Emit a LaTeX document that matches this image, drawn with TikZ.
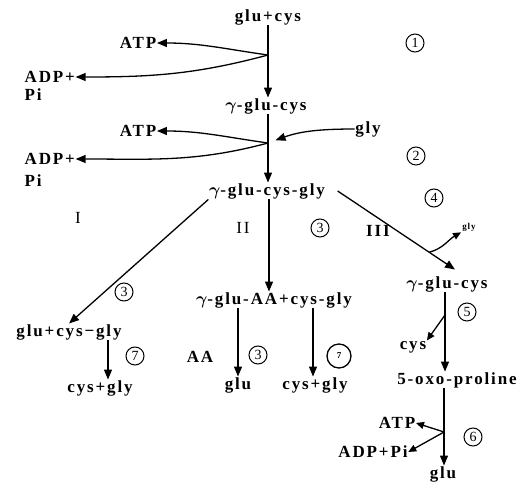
\documentclass[tikz,border=0pt]{standalone}
\usepackage{bm}
\usepackage{fontspec}
\setmainfont{Liberation Serif}[LetterSpace=11]
\usetikzlibrary{arrows.meta}
\begin{document}
\begin{tikzpicture}[x=1pt,y=-1pt,
  txt/.style={font=\bfseries\fontsize{17}{20}\selectfont, inner sep=0.5pt},
  rom/.style={font=\fontsize{17}{20}\selectfont, inner sep=0.5pt},
  num/.style={circle,draw,line width=1pt,minimum size=18pt,inner sep=0pt,font=\fontsize{14}{14}\selectfont},
  bignum/.style={circle,draw,line width=1.3pt,minimum size=24pt,inner sep=0pt,font=\bfseries\fontsize{9}{9}\selectfont},
  arr/.style={line width=1.3pt,-{Triangle[length=10pt,width=8pt]}},
  sarr/.style={line width=1.3pt,-{Triangle[length=8pt,width=7pt]}}]
\useasboundingbox (0,0) rectangle (525,490);
% texts
\node[txt] (gc) at (268,17) {glu+cys};
\node[txt] (atpA) at (138,43) {ATP};
\node[txt,anchor=west] (adpA) at (24,77) {ADP+};
\node[txt,anchor=west] (piA) at (24,95) {Pi};
\node[txt] (ggc) at (266,106) {$\bm{\gamma}$-glu-cys};
\node[txt] (atpB) at (138,131) {ATP};
\node[txt,anchor=west] (adpB) at (24,159) {ADP+};
\node[txt,anchor=west] (piB) at (24,181) {Pi};
\node[txt] (gly) at (368,129) {gly};
\node[txt] (ggcg) at (267,191) {$\bm{\gamma}$-glu-cys-gly};
\node[rom] (rI) at (78,218) {I};
\node[rom] (rII) at (243,228) {II};
\node[txt] (rIII) at (378,231) {III};
\node[txt] (gcg) at (69,332) {glu+cys−gly};
\node[txt] (cgA) at (100,388) {cys+gly};
\node[txt] (gaa) at (274,300) {$\bm{\gamma}$-glu-AA+cys-gly};
\node[txt] (aa) at (200,357) {AA};
\node[txt] (gluA) at (238,385) {glu};
\node[txt] (cgB) at (315,385) {cys+gly};
\node[txt] (ggc2) at (447,284) {$\bm{\gamma}$-glu-cys};
\node[txt] (cysC) at (413,347) {cys};
\node[txt] (oxo) at (457,380) {5-oxo-proline};
\node[txt] (atpC) at (397,423) {ATP};
\node[txt] (adpC) at (373,452) {ADP+Pi};
\node[txt] (gluC) at (443,474) {glu};
\node[font=\bfseries\fontsize{9}{9}\selectfont,inner sep=1pt] (glys) at (469,227) {gly};
% circled numbers
\node[num] (n1) at (415,43) {1};
\node[num] (n2) at (416,156) {2};
\node[num] (n4) at (434,198) {4};
\node[num] (n3a) at (320,228) {3};
\node[num] (n3b) at (124,292) {3};
\node[num] (n7a) at (135,356) {7};
\node[num] (n3c) at (258,355) {3};
\node[bignum] (n7b) at (339,356) {7};
\node[num] (n5) at (467,312) {5};
\node[num] (n6) at (473,437) {6};
% step 1
\coordinate (bA) at (268,55);
\draw[arr] (gc.south) -- (gc.south |- ggc.north);
\draw[arr] (bA) to[out=172,in=0] (atpA.east);
\draw[arr] (bA) to[out=195,in=0] (adpA.east);
% step 2
\coordinate (bB) at (268,143);
\draw[arr] (ggc.south -| bB) -- (bB |- ggcg.north);
\draw[arr] (bB) to[out=172,in=0] (atpB.east);
\draw[arr] (bB) to[out=195,in=0] (adpB.east);
\draw[arr,shorten >=8pt] (gly.west) to[out=180,in=20] (bB);
% branches
\draw[arr] (ggcg.south west) -- (gcg.north);
\coordinate (cgAtop) at ([xshift=8pt]cgA.north);
\draw[arr] (cgAtop |- gcg.south) -- (cgAtop);
\coordinate (IIx) at (269,0);
\draw[arr] (IIx |- ggcg.south) -- (IIx |- gaa.north);
\draw[arr] (gluA.north |- gaa.south) -- (gluA.north);
\coordinate (cgBtop) at ([xshift=-2pt]cgB.north);
\draw[arr] (cgBtop |- gaa.south) -- (cgBtop);
\coordinate (s3) at ([xshift=12pt]ggcg.east);
\coordinate (e3) at ([xshift=8pt,yshift=6pt]ggc2.north);
\draw[arr] (s3) -- (e3);
\path (s3) -- (e3) coordinate[pos=0.78] (b3);
\draw[sarr] (b3) to[out=15,in=210] (glys.south west);
% right column
\coordinate (bD) at (445,315);
\draw[arr] (ggc2.south -| bD) -- (bD |- oxo.north);
\draw[sarr] (bD) -- (cysC.north east);
\coordinate (bE) at (444,432);
\draw[arr] (oxo.south -| bE) -- (bE |- gluC.north);
\draw[sarr] (bE) -- (atpC.east);
\draw[sarr] (bE) -- (adpC.east);
\end{tikzpicture}
\end{document}
